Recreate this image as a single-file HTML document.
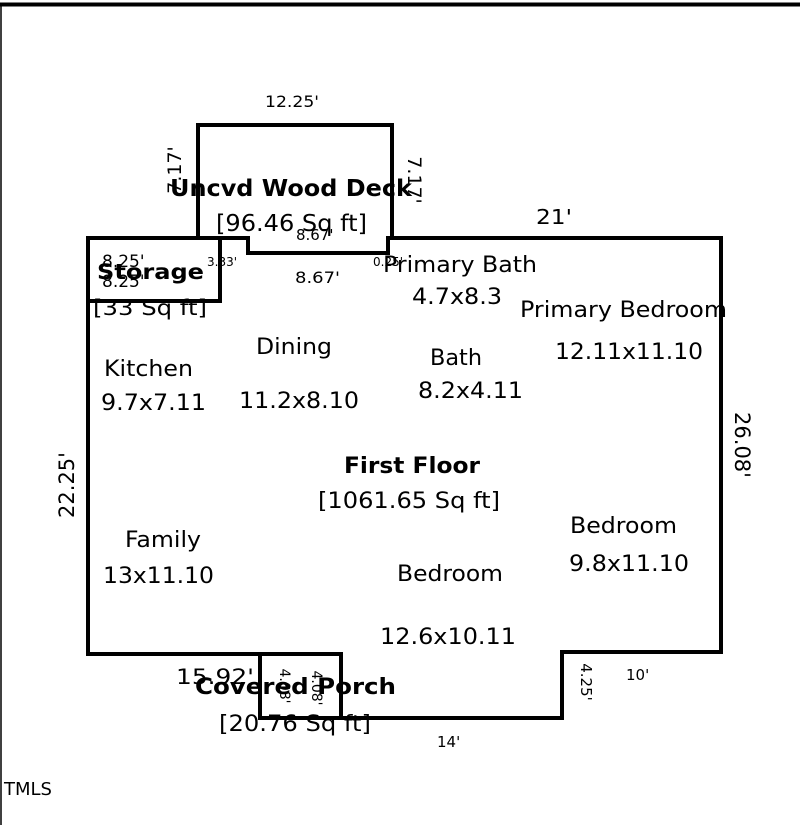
<!DOCTYPE html>
<html><head><meta charset="utf-8"><style>
html,body{margin:0;padding:0;background:#fff;width:800px;height:825px;overflow:hidden}
svg text{font-family:"DejaVu Sans","Liberation Sans",sans-serif;fill:#000}
</style></head><body>
<svg width="800" height="825" viewBox="0 0 800 825" xmlns="http://www.w3.org/2000/svg">
<rect x="0" y="0" width="800" height="825" fill="#fff"/>
<line x1="0" y1="4.5" x2="800" y2="4.5" stroke="#000" stroke-width="4"/>
<line x1="1" y1="4" x2="1" y2="825" stroke="#000" stroke-width="1.5"/>
<g fill="none" stroke="#000" stroke-width="4" stroke-linejoin="miter">
<polyline points="198,238 198,125 392,125 392,240"/>
<polyline points="88,238 248,238 248,253 388,253 388,238 721,238 721,652 562,652 562,718 341,718"/>
<polyline points="260,654 88,654 88,238"/>
<rect x="88" y="238" width="132" height="63"/>
<rect x="260" y="654" width="81" height="64"/>
</g>
<g font-size="16" lengthAdjust="spacingAndGlyphs">
<text x="265" y="107" textLength="54" lengthAdjust="spacingAndGlyphs">12.25'</text>
<text x="536" y="224" font-size="20" textLength="36" lengthAdjust="spacingAndGlyphs">21'</text>
<text x="295" y="283" font-size="16" textLength="45" lengthAdjust="spacingAndGlyphs">8.67'</text>
<text x="626" y="680" font-size="15">10'</text>
<text x="437" y="747" font-size="15">14'</text>
<text x="176" y="684" font-size="21" textLength="78" lengthAdjust="spacingAndGlyphs">15.92'</text>
</g>
<text transform="translate(74,485) rotate(-90)" font-size="21" text-anchor="middle">22.25'</text>
<text transform="translate(735,445) rotate(90)" font-size="21" text-anchor="middle">26.08'</text>
<text transform="translate(581,682) rotate(90)" font-size="15" text-anchor="middle">4.25'</text>
<text transform="translate(181,170) rotate(-90)" font-size="19" text-anchor="middle">7.17'</text>
<text transform="translate(408,180) rotate(90)" font-size="19" text-anchor="middle">7.17'</text>
<text x="170" y="196" font-size="23" font-weight="bold" textLength="242" lengthAdjust="spacingAndGlyphs">Uncvd Wood Deck</text>
<text x="216" y="231" font-size="23" textLength="151" lengthAdjust="spacingAndGlyphs">[96.46 Sq ft]</text>
<text x="296" y="240" font-size="15">8.67'</text>
<text x="207" y="266" font-size="12">3.33'</text>
<text x="373" y="266" font-size="12">0.25'</text>
<text x="102" y="267" font-size="17">8.25'</text>
<text x="102" y="287" font-size="17">8.25'</text>
<text x="97" y="279" font-size="21" font-weight="bold" textLength="107" lengthAdjust="spacingAndGlyphs">Storage</text>
<text x="93" y="315" font-size="21" textLength="114" lengthAdjust="spacingAndGlyphs">[33 Sq ft]</text>
<g font-size="22">
<text x="383" y="272" textLength="154" lengthAdjust="spacingAndGlyphs">Primary Bath</text>
<text x="412" y="304" textLength="90" lengthAdjust="spacingAndGlyphs">4.7x8.3</text>
<text x="520" y="317" textLength="207" lengthAdjust="spacingAndGlyphs">Primary Bedroom</text>
<text x="555" y="359" textLength="148" lengthAdjust="spacingAndGlyphs">12.11x11.10</text>
<text x="256" y="354" textLength="76" lengthAdjust="spacingAndGlyphs">Dining</text>
<text x="239" y="408" textLength="120" lengthAdjust="spacingAndGlyphs">11.2x8.10</text>
<text x="104" y="376" textLength="89" lengthAdjust="spacingAndGlyphs">Kitchen</text>
<text x="101" y="410" textLength="105" lengthAdjust="spacingAndGlyphs">9.7x7.11</text>
<text x="430" y="365" textLength="52" lengthAdjust="spacingAndGlyphs">Bath</text>
<text x="418" y="398" textLength="105" lengthAdjust="spacingAndGlyphs">8.2x4.11</text>
<text x="344" y="473" font-weight="bold" textLength="136" lengthAdjust="spacingAndGlyphs">First Floor</text>
<text x="318" y="508" textLength="182" lengthAdjust="spacingAndGlyphs">[1061.65 Sq ft]</text>
<text x="570" y="533" textLength="107" lengthAdjust="spacingAndGlyphs">Bedroom</text>
<text x="569" y="571" textLength="120" lengthAdjust="spacingAndGlyphs">9.8x11.10</text>
<text x="125" y="547" textLength="76" lengthAdjust="spacingAndGlyphs">Family</text>
<text x="103" y="583" textLength="111" lengthAdjust="spacingAndGlyphs">13x11.10</text>
<text x="397" y="581" textLength="106" lengthAdjust="spacingAndGlyphs">Bedroom</text>
<text x="380" y="644" textLength="136" lengthAdjust="spacingAndGlyphs">12.6x10.11</text>
<text x="195" y="694" font-weight="bold" textLength="201" lengthAdjust="spacingAndGlyphs">Covered Porch</text>
<text x="219" y="731" textLength="152" lengthAdjust="spacingAndGlyphs">[20.76 Sq ft]</text>
</g>
<text transform="translate(280,686) rotate(90)" font-size="14" text-anchor="middle">4.08'</text>
<text transform="translate(312,688) rotate(90)" font-size="14" text-anchor="middle">4.08'</text>
<text x="4" y="795" font-size="18" fill="#333">TMLS</text>
</svg>
</body></html>
